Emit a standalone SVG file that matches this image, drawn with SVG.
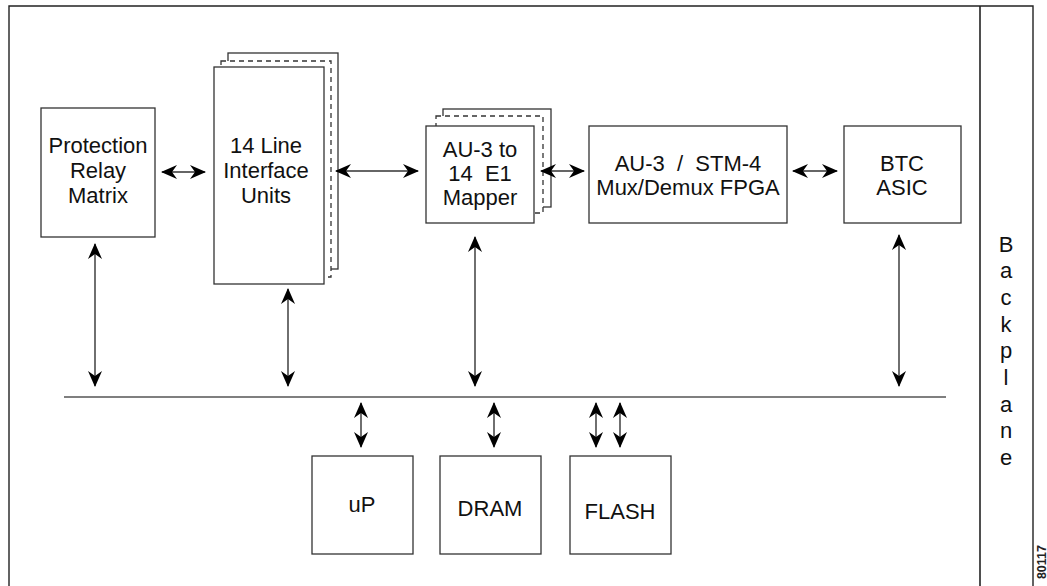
<svg xmlns="http://www.w3.org/2000/svg" width="1047" height="586" viewBox="0 0 1047 586">
<style>
.box{fill:#fff;stroke:#333;stroke-width:1.3}
.dash{fill:#fff;stroke:#333;stroke-width:1.3;stroke-dasharray:5,4}
.frame{fill:none;stroke:#222;stroke-width:1.4}
.t{font-family:"Liberation Sans",Arial,sans-serif;font-size:22px;fill:#111;text-anchor:middle}
.conn{stroke:#333;stroke-width:1.4;fill:none}
</style>
<defs>
<marker id="ah" viewBox="0 0 16 14" refX="15" refY="7" markerWidth="16" markerHeight="14" markerUnits="userSpaceOnUse" orient="auto-start-reverse">
<path d="M0,0 L16,7 L0,14 L5,7 Z" fill="#000"/>
</marker>
</defs>
<rect width="1047" height="586" fill="#fff"/>
<g id="frame">
<path class="frame" d="M9,590 V6 H1033 V590"/>
<line x1="980" y1="6" x2="980" y2="590" stroke="#222" stroke-width="1.6"/>
</g>
<g id="backplane">
<text class="t" x="1006" y="252">B</text>
<text class="t" x="1006" y="278">a</text>
<text class="t" x="1006" y="305">c</text>
<text class="t" x="1006" y="332">k</text>
<text class="t" x="1006" y="358">p</text>
<text class="t" x="1006" y="385">l</text>
<text class="t" x="1006" y="412">a</text>
<text class="t" x="1006" y="438">n</text>
<text class="t" x="1006" y="465">e</text>
</g>
<g id="protection">
<rect class="box" x="41" y="108" width="114" height="129"/>
<text class="t" x="98" y="153">Protection</text>
<text class="t" x="98" y="178">Relay</text>
<text class="t" x="98" y="203">Matrix</text>
</g>
<g id="liu">
<rect class="box" x="228" y="53" width="110" height="216"/>
<rect class="dash" x="221" y="61" width="110" height="216"/>
<rect class="box" x="214" y="67" width="110" height="217"/>
<text class="t" x="266" y="153">14 Line</text>
<text class="t" x="266" y="178">Interface</text>
<text class="t" x="266" y="203">Units</text>
</g>
<g id="mapper">
<rect class="box" x="443" y="109" width="108" height="98"/>
<rect class="dash" x="436" y="116" width="107" height="97"/>
<rect class="box" x="426" y="126" width="108" height="97"/>
<text class="t" x="480" y="157">AU-3 to</text>
<text class="t" x="480" y="181" xml:space="preserve">14  E1</text>
<text class="t" x="480" y="205">Mapper</text>
</g>
<g id="fpga">
<rect class="box" x="589" y="126" width="198" height="97"/>
<text class="t" x="688" y="171" xml:space="preserve">AU-3  /  STM-4</text>
<text class="t" x="688" y="195">Mux/Demux FPGA</text>
</g>
<g id="btc">
<rect class="box" x="844" y="126" width="117" height="97"/>
<text class="t" x="902" y="171">BTC</text>
<text class="t" x="902" y="195">ASIC</text>
</g>
<g id="up">
<rect class="box" x="312" y="456" width="101" height="98"/>
<text class="t" x="362" y="512">uP</text>
</g>
<g id="dram">
<rect class="box" x="440" y="456" width="101" height="98"/>
<text class="t" x="490" y="516">DRAM</text>
</g>
<g id="flash">
<rect class="box" x="570" y="456" width="101" height="98"/>
<text class="t" x="620" y="519">FLASH</text>
</g>
<g id="connectors">
<line x1="64" y1="397" x2="946" y2="397" stroke="#555" stroke-width="1.4"/>
<line class="conn" x1="162" y1="172" x2="205" y2="172" marker-start="url(#ah)" marker-end="url(#ah)"/>
<line class="conn" x1="336" y1="171" x2="418" y2="171" marker-start="url(#ah)" marker-end="url(#ah)"/>
<line class="conn" x1="541" y1="171" x2="584" y2="171" marker-start="url(#ah)" marker-end="url(#ah)"/>
<line class="conn" x1="793" y1="171" x2="837" y2="171" marker-start="url(#ah)" marker-end="url(#ah)"/>
<line class="conn" x1="95" y1="244" x2="95" y2="386" marker-start="url(#ah)" marker-end="url(#ah)"/>
<line class="conn" x1="288" y1="289" x2="288" y2="386" marker-start="url(#ah)" marker-end="url(#ah)"/>
<line class="conn" x1="475" y1="237" x2="475" y2="386" marker-start="url(#ah)" marker-end="url(#ah)"/>
<line class="conn" x1="899" y1="235" x2="899" y2="386" marker-start="url(#ah)" marker-end="url(#ah)"/>
<line class="conn" x1="361" y1="403" x2="361" y2="447" marker-start="url(#ah)" marker-end="url(#ah)"/>
<line class="conn" x1="494" y1="403" x2="494" y2="447" marker-start="url(#ah)" marker-end="url(#ah)"/>
<line class="conn" x1="596" y1="403" x2="596" y2="447" marker-start="url(#ah)" marker-end="url(#ah)"/>
<line class="conn" x1="620" y1="403" x2="620" y2="447" marker-start="url(#ah)" marker-end="url(#ah)"/>
</g>
<text x="1046" y="545" transform="rotate(-90 1046 545)" text-anchor="end" font-family="'Liberation Sans',Arial,sans-serif" font-size="12.5" font-weight="bold" fill="#222">80117</text>
</svg>
